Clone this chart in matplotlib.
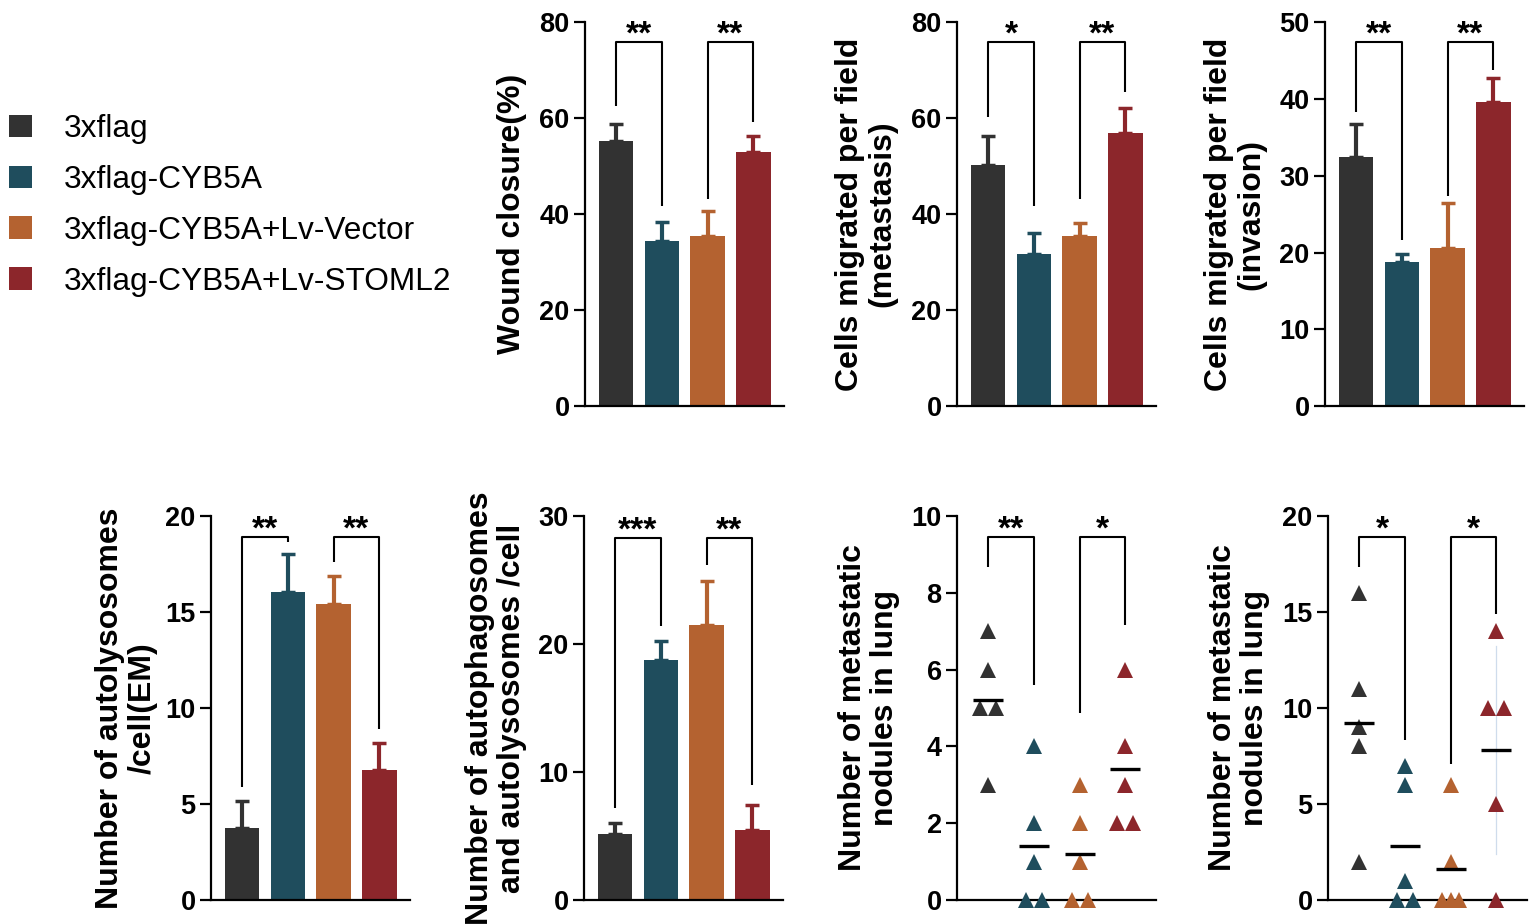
import matplotlib
matplotlib.use('Agg')
import matplotlib.pyplot as plt
import numpy as np
from matplotlib.patches import Patch
from collections import Counter

plt.rcParams['font.family'] = ['Liberation Sans', 'DejaVu Sans']

# ---------------- data ----------------
groups = ['3xflag', '3xflag-CYB5A', '3xflag-CYB5A+Lv-Vector', '3xflag-CYB5A+Lv-STOML2']
colors = ['#323232', '#1f4d5d', '#b46230', '#8c262b']

wound_mean = [55.2, 34.3, 35.4, 53.0]
wound_err = [3.7, 4.1, 5.3, 3.2]
meta_mean = [50.2, 31.6, 35.4, 56.9]
meta_err = [6.0, 4.4, 2.7, 5.2]
inv_mean = [32.5, 18.8, 20.6, 39.6]
inv_err = [4.2, 1.0, 5.9, 3.2]
autoly_mean = [3.75, 16.05, 15.4, 6.77]
autoly_err = [1.4, 1.95, 1.45, 1.43]
autoph_mean = [5.16, 18.75, 21.5, 5.47]
autoph_err = [0.83, 1.45, 3.4, 1.95]

nodules_a = [[7, 6, 5, 5, 3], [4, 2, 1, 0, 0], [3, 2, 1, 0, 0], [6, 4, 3, 2, 2]]
nodules_b = [[16, 11, 9, 8, 2], [7, 6, 1, 0, 0], [6, 2, 0, 0, 0], [14, 10, 10, 5, 0]]

# significance: (label, bracket top, left-leg bottom, right-leg bottom)
wound_sig = [('**', 75.8, 62.6, 41.8), ('**', 75.8, 43.2, 59.3)]
meta_sig = [('*', 75.8, 60.2, 41.7), ('**', 75.8, 43.1, 65.4)]
inv_sig = [('**', 47.4, 38.3, 21.6), ('**', 47.4, 27.4, 43.8)]
autoly_sig = [('**', 18.9, 5.9, 18.65), ('**', 18.9, 17.6, 8.9)]
autoph_sig = [('***', 28.3, 7.2, 21.4), ('**', 28.3, 26.2, 9.0)]
nod_a_sig = [('**', 9.45, 8.68, 5.6), ('*', 9.45, 4.86, 7.16)]
nod_b_sig = [('*', 18.9, 17.35, 8.33), ('*', 18.9, 7.1, 14.9)]

W, H = 1531, 924
fig = plt.figure(figsize=(W / 100, H / 100), dpi=100)
fig.patch.set_facecolor('white')


def make_ax(left, top, right, bottom):
    return fig.add_axes([left / W, 1 - bottom / H, (right - left) / W, (bottom - top) / H])


def style(ax, ymax, step, ylabel, lx):
    ax.set_xlim(-0.68, 3.67)
    ax.set_ylim(0, ymax)
    ticks = np.arange(0, ymax + 0.01, step)
    ax.set_yticks(ticks)
    ax.set_yticklabels([f'{int(v)}' for v in ticks])
    for s in ['top', 'right']:
        ax.spines[s].set_visible(False)
    for s in ['left', 'bottom']:
        ax.spines[s].set_linewidth(1.6)
    ax.set_xticks([])
    ax.tick_params(axis='y', direction='out', length=8, width=1.6, labelsize=19.5, pad=3)
    for t in ax.get_yticklabels():
        t.set_fontweight('bold')
    ax.set_ylabel(ylabel, fontsize=23, fontweight='bold', linespacing=1.08)
    ax.yaxis.set_label_coords(lx, 0.5)
    ax.set_facecolor('none')


def brackets(ax, sigs, ymax):
    pairs = [(0, 1), (2, 3)]
    for (lab, top, b1, b2), (x1, x2) in zip(sigs, pairs):
        ax.plot([x1, x1, x2, x2], [b1, top, top, b2], color='black', lw=1.5,
                clip_on=False, zorder=5, solid_capstyle='butt')
        ax.text((x1 + x2) / 2, top - ymax * 0.004, lab, ha='center', va='baseline',
                fontsize=24, fontweight='bold', color='black')


def bar_panel(ax, means, errs):
    x = np.arange(len(means))
    ax.bar(x, means, width=0.75, color=colors, zorder=2)
    for i in range(len(means)):
        ax.errorbar(i, means[i], yerr=[[0], [errs[i]]], fmt='none', ecolor=colors[i],
                    elinewidth=3, capsize=5, capthick=2.5, zorder=1)


def scatter_panel(ax, data, sd_groups=()):
    for i, vals in enumerate(data):
        cnt = Counter(vals)
        xs, ys = [], []
        for v, n in cnt.items():
            stepw = 0.35 if n == 2 else 0.18
            offs = (np.arange(n) - (n - 1) / 2) * stepw
            for o in offs:
                xs.append(i + o)
                ys.append(v)
        m = np.mean(vals)
        if i in sd_groups:
            sd = np.std(vals, ddof=1)
            ax.plot([i, i], [m - sd, m + sd], color='#cfdcec', lw=0.9, zorder=1)
        ax.plot(xs, ys, linestyle='none', marker='^', ms=11, mew=0,
                color=colors[i], clip_on=False, zorder=3)
        ax.hlines(m, i - 0.33, i + 0.33, color='black', lw=2.4, zorder=4)


# ---------------- top row ----------------
TT, TB = 22.3, 406
ax1 = make_ax(585, TT, 784, TB)
bar_panel(ax1, wound_mean, wound_err)
style(ax1, 80, 20, 'Wound closure(%)', -0.29)
brackets(ax1, wound_sig, 80)

ax2 = make_ax(957, TT, 1156, TB)
bar_panel(ax2, meta_mean, meta_err)
style(ax2, 80, 20, 'Cells migrated per field\n(metastasis)', -0.30)
brackets(ax2, meta_sig, 80)

ax3 = make_ax(1325, TT, 1524, TB)
bar_panel(ax3, inv_mean, inv_err)
style(ax3, 50, 10, 'Cells migrated per field\n(invasion)', -0.295)
brackets(ax3, inv_sig, 50)

# ---------------- bottom row ----------------
BT, BB = 516, 900
ax4 = make_ax(211, BT, 410, BB)
bar_panel(ax4, autoly_mean, autoly_err)
style(ax4, 20, 5, 'Number of autolysosomes\n/cell(EM)', -0.27)
brackets(ax4, autoly_sig, 20)

ax5 = make_ax(584, BT, 783, BB)
bar_panel(ax5, autoph_mean, autoph_err)
style(ax5, 30, 10, 'Number of autophagosomes\nand autolysosomes /cell', -0.285)
brackets(ax5, autoph_sig, 30)

ax6 = make_ax(957, BT, 1156, BB)
scatter_panel(ax6, nodules_a)
style(ax6, 10, 2, 'Number of metastatic\nnodules in lung', -0.285)
brackets(ax6, nod_a_sig, 10)

ax7 = make_ax(1328, BT, 1527, BB)
scatter_panel(ax7, nodules_b, sd_groups=(3,))
style(ax7, 20, 5, 'Number of metastatic\nnodules in lung', -0.29)
brackets(ax7, nod_b_sig, 20)

# ---------------- legend ----------------
handles = [Patch(facecolor=c, edgecolor='none') for c in colors]
fig.legend(handles, groups, loc='upper left', bbox_to_anchor=(9 / W, 1 - 114 / H),
           frameon=False, fontsize=22.8, handlelength=0.72, handleheight=0.72,
           handletextpad=1.0, labelspacing=0.66, borderaxespad=0, borderpad=0)

fig.savefig('out.png', dpi=100, facecolor='white')
